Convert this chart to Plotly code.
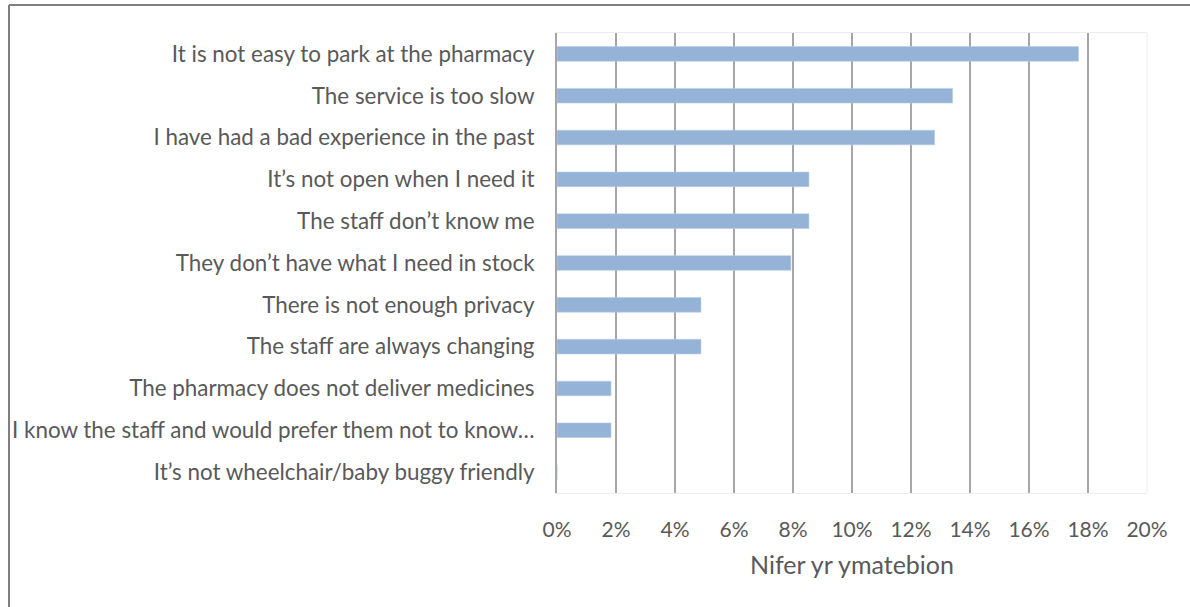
import plotly.graph_objects as go

categories = [
    "It is not easy to park at the pharmacy",
    "The service is too slow",
    "I have had a bad experience in the past",
    "It’s not open when I need it",
    "The staff don’t know me",
    "They don’t have what I need in stock",
    "There is not enough privacy",
    "The staff are always changing",
    "The pharmacy does not deliver medicines",
    "I know the staff and would prefer them not to know…",
    "It’s not wheelchair/baby buggy friendly",
]
values = [0.1768, 0.1341, 0.1280, 0.0854, 0.0854, 0.0793, 0.0488, 0.0488, 0.0183, 0.0183, 0.0]
tick_vals = [0, 0.02, 0.04, 0.06, 0.08, 0.10, 0.12, 0.14, 0.16, 0.18, 0.20]
tick_text = ["0%", "2%", "4%", "6%", "8%", "10%", "12%", "14%", "16%", "18%", "20%"]
x_title = "Nifer yr ymatebion"

W, H = 1190, 607
ML, MR, MT, MB = 557, 43, 33, 114
PW, PH = W - ML - MR, H - MT - MB

def px_x(p):
    return (p - ML) / PW

def px_y(p):
    return (H - MB - p) / PH

FONT = "Lato"
TXT = "#595959"

fig = go.Figure(go.Bar(
    x=values, y=categories, orientation="h",
    marker=dict(color="#95B3D7", line=dict(color="#B9CDE5", width=0.6)),
    width=0.35,
))

fig.update_layout(
    width=W, height=H,
    margin=dict(l=ML, r=MR, t=MT, b=MB, pad=0),
    paper_bgcolor="white", plot_bgcolor="white",
    showlegend=False,
    font=dict(family=FONT, color=TXT),
    xaxis=dict(
        range=[0, 0.2], tickvals=tick_vals, ticktext=tick_text,
        showgrid=True, gridcolor="#A6A6A6", gridwidth=2,
        zeroline=False, showline=True, mirror=True, linecolor="#EDEDED", linewidth=1,
        ticks="", ticklabelstandoff=18,
        tickfont=dict(family=FONT, size=21, color=TXT),
        title=dict(text=x_title, font=dict(family=FONT, size=25, color=TXT), standoff=16),
        fixedrange=True,
    ),
    yaxis=dict(
        categoryorder="array", categoryarray=categories[::-1],
        showgrid=False, zeroline=False,
        showline=True, linecolor="#A6A6A6", linewidth=2, mirror=False,
        ticks="", ticklabelstandoff=16,
        tickfont=dict(family=FONT, size=22.4, color=TXT),
        fixedrange=True,
    ),
    shapes=[
        dict(type="line", xref="paper", yref="paper",
             x0=px_x(9), x1=px_x(W + 5), y0=px_y(5), y1=px_y(5),
             line=dict(color="#7F7F7F", width=2), layer="above"),
        dict(type="line", xref="paper", yref="paper",
             x0=px_x(9), x1=px_x(9), y0=px_y(5), y1=px_y(H + 5),
             line=dict(color="#7F7F7F", width=2), layer="above"),
        dict(type="line", xref="paper", yref="paper",
             x0=1, x1=1, y0=0, y1=1,
             line=dict(color="#EDEDED", width=1), layer="above"),
    ],
)

fig.write_html(
    "out.html",
    config={"displayModeBar": False},
    post_script="document.body.style.margin='0';document.body.style.padding='0';",
)
